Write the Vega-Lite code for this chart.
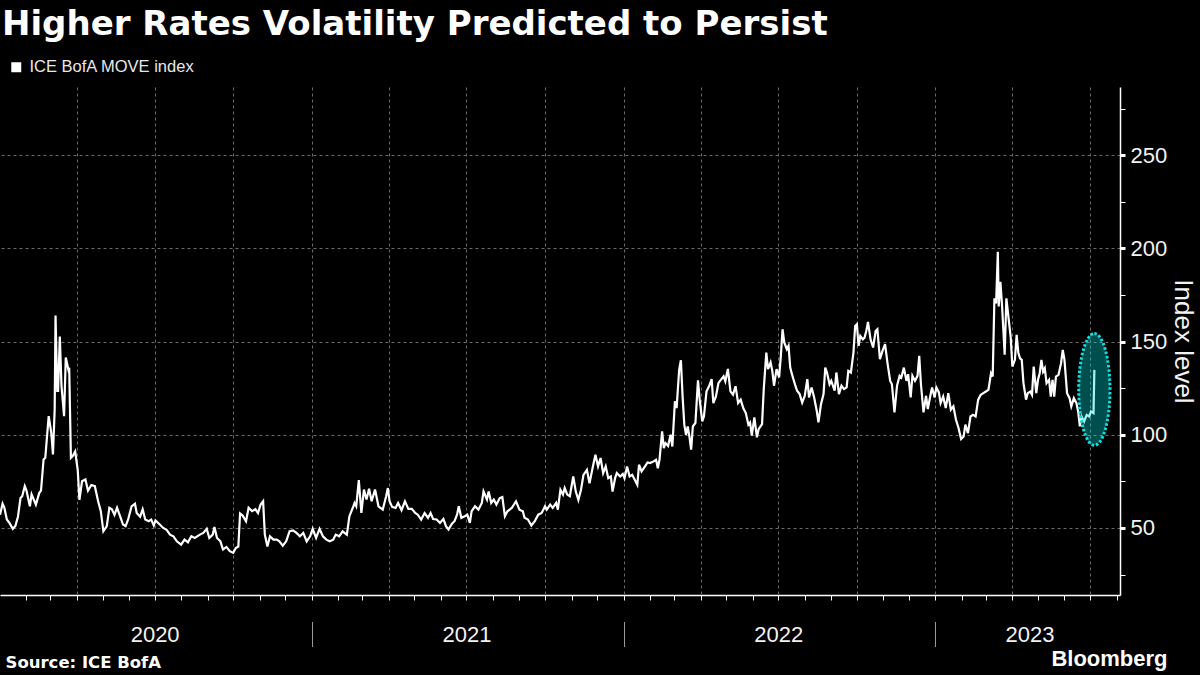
{
  "$schema": "https://vega.github.io/schema/vega-lite/v6.json",
  "width": 1120,
  "height": 508,
  "autosize": {"type": "none"},
  "padding": {"left": 0, "top": 87, "right": 80, "bottom": 80},
  "background": "#000000",
  "config": {
    "view": {"stroke": null},
    "font": "Liberation Sans"
  },
  "title": {
    "text": "Higher Rates Volatility Predicted to Persist",
    "anchor": "start",
    "frame": "group",
    "font": "DejaVu Sans",
    "fontSize": 34,
    "fontWeight": "bold",
    "color": "#ffffff",
    "baseline": "alphabetic",
    "offset": -10,
    "dx": 2
  },
  "datasets": {
    "move": [
      {"date": "2020-01-02", "value": 57}, {"date": "2020-01-05", "value": 63}, {"date": "2020-01-07", "value": 61}, {"date": "2020-01-10", "value": 54.5}, {"date": "2020-01-13", "value": 52.7}, {"date": "2020-01-17", "value": 49.5}, {"date": "2020-01-20", "value": 51}, {"date": "2020-01-23", "value": 56}, {"date": "2020-01-26", "value": 66}, {"date": "2020-01-28", "value": 67}, {"date": "2020-01-31", "value": 72.4},
      {"date": "2020-02-02", "value": 70}, {"date": "2020-02-06", "value": 61.6}, {"date": "2020-02-08", "value": 68}, {"date": "2020-02-13", "value": 62.5}, {"date": "2020-02-17", "value": 68.8}, {"date": "2020-02-19", "value": 70}, {"date": "2020-02-22", "value": 86.7}, {"date": "2020-02-24", "value": 87.6}, {"date": "2020-02-28", "value": 110},
      {"date": "2020-03-02", "value": 101}, {"date": "2020-03-04", "value": 89.4}, {"date": "2020-03-06", "value": 113.6}, {"date": "2020-03-07", "value": 164}, {"date": "2020-03-09", "value": 123.5}, {"date": "2020-03-10", "value": 123.5}, {"date": "2020-03-12", "value": 152.7}, {"date": "2020-03-14", "value": 126}, {"date": "2020-03-17", "value": 110}, {"date": "2020-03-19", "value": 141.4}, {"date": "2020-03-22", "value": 135}, {"date": "2020-03-23", "value": 136}, {"date": "2020-03-25", "value": 87.6}, {"date": "2020-03-27", "value": 88.5}, {"date": "2020-03-30", "value": 91},
      {"date": "2020-04-02", "value": 81}, {"date": "2020-04-04", "value": 65}, {"date": "2020-04-07", "value": 75}, {"date": "2020-04-11", "value": 76}, {"date": "2020-04-14", "value": 70}, {"date": "2020-04-18", "value": 73}, {"date": "2020-04-22", "value": 72.4}, {"date": "2020-04-26", "value": 64}, {"date": "2020-04-29", "value": 59},
      {"date": "2020-05-02", "value": 48.2}, {"date": "2020-05-06", "value": 51}, {"date": "2020-05-09", "value": 60.8}, {"date": "2020-05-12", "value": 60}, {"date": "2020-05-15", "value": 57}, {"date": "2020-05-18", "value": 60.8}, {"date": "2020-05-21", "value": 57}, {"date": "2020-05-25", "value": 51.8}, {"date": "2020-05-28", "value": 51}, {"date": "2020-05-31", "value": 54.5},
      {"date": "2020-06-04", "value": 61.6}, {"date": "2020-06-08", "value": 63}, {"date": "2020-06-10", "value": 58}, {"date": "2020-06-14", "value": 56}, {"date": "2020-06-17", "value": 60}, {"date": "2020-06-20", "value": 54.5}, {"date": "2020-06-24", "value": 53.6}, {"date": "2020-06-27", "value": 54.5}, {"date": "2020-06-30", "value": 51.3},
      {"date": "2020-07-02", "value": 54}, {"date": "2020-07-07", "value": 51.8}, {"date": "2020-07-11", "value": 50}, {"date": "2020-07-15", "value": 49}, {"date": "2020-07-19", "value": 46.4}, {"date": "2020-07-23", "value": 45.5}, {"date": "2020-07-27", "value": 42.8},
      {"date": "2020-08-01", "value": 41}, {"date": "2020-08-05", "value": 43.7}, {"date": "2020-08-09", "value": 42.3}, {"date": "2020-08-13", "value": 45.5}, {"date": "2020-08-17", "value": 44.6}, {"date": "2020-08-23", "value": 46.4}, {"date": "2020-08-27", "value": 47.3}, {"date": "2020-08-31", "value": 49.5},
      {"date": "2020-09-03", "value": 44.6}, {"date": "2020-09-07", "value": 46.4}, {"date": "2020-09-09", "value": 50.5}, {"date": "2020-09-12", "value": 44.6}, {"date": "2020-09-16", "value": 42.8}, {"date": "2020-09-19", "value": 38.4}, {"date": "2020-09-23", "value": 39.8}, {"date": "2020-09-27", "value": 37.5},
      {"date": "2020-10-01", "value": 36.6}, {"date": "2020-10-04", "value": 39.2}, {"date": "2020-10-07", "value": 40}, {"date": "2020-10-09", "value": 57.7}, {"date": "2020-10-12", "value": 56.6}, {"date": "2020-10-16", "value": 53.6}, {"date": "2020-10-19", "value": 60.8}, {"date": "2020-10-23", "value": 59}, {"date": "2020-10-27", "value": 60}, {"date": "2020-10-30", "value": 58},
      {"date": "2020-11-02", "value": 62.5}, {"date": "2020-11-05", "value": 64.3}, {"date": "2020-11-07", "value": 46.4}, {"date": "2020-11-10", "value": 40}, {"date": "2020-11-13", "value": 45.5}, {"date": "2020-11-17", "value": 43.7}, {"date": "2020-11-21", "value": 43.7}, {"date": "2020-11-24", "value": 42.8}, {"date": "2020-11-28", "value": 40.5},
      {"date": "2020-12-02", "value": 42.8}, {"date": "2020-12-06", "value": 48.2}, {"date": "2020-12-10", "value": 48.7}, {"date": "2020-12-14", "value": 47.3}, {"date": "2020-12-18", "value": 45.5}, {"date": "2020-12-22", "value": 47.3}, {"date": "2020-12-26", "value": 42.8}, {"date": "2020-12-30", "value": 45.5},
      {"date": "2021-01-02", "value": 49.5}, {"date": "2021-01-06", "value": 44.6}, {"date": "2021-01-10", "value": 49.5}, {"date": "2021-01-14", "value": 45.5}, {"date": "2021-01-18", "value": 43.7}, {"date": "2021-01-22", "value": 42.8}, {"date": "2021-01-26", "value": 43.7}, {"date": "2021-01-29", "value": 46.4},
      {"date": "2021-02-02", "value": 45.5}, {"date": "2021-02-06", "value": 48.2}, {"date": "2021-02-11", "value": 46.4}, {"date": "2021-02-14", "value": 56.3}, {"date": "2021-02-18", "value": 60.8}, {"date": "2021-02-20", "value": 63.4}, {"date": "2021-02-22", "value": 61.6}, {"date": "2021-02-25", "value": 75.6}, {"date": "2021-02-28", "value": 58},
      {"date": "2021-03-03", "value": 70.6}, {"date": "2021-03-06", "value": 65.2}, {"date": "2021-03-09", "value": 71}, {"date": "2021-03-12", "value": 64.3}, {"date": "2021-03-16", "value": 70.6}, {"date": "2021-03-20", "value": 61.6}, {"date": "2021-03-25", "value": 59.8}, {"date": "2021-03-29", "value": 67}, {"date": "2021-03-31", "value": 71.4},
      {"date": "2021-04-02", "value": 64.3}, {"date": "2021-04-05", "value": 61.3}, {"date": "2021-04-09", "value": 60.7}, {"date": "2021-04-12", "value": 63.4}, {"date": "2021-04-16", "value": 59.5}, {"date": "2021-04-20", "value": 64.3}, {"date": "2021-04-24", "value": 60.2}, {"date": "2021-04-28", "value": 60.2},
      {"date": "2021-05-02", "value": 58}, {"date": "2021-05-05", "value": 57.1}, {"date": "2021-05-09", "value": 54.5}, {"date": "2021-05-13", "value": 58}, {"date": "2021-05-17", "value": 55.4}, {"date": "2021-05-20", "value": 58}, {"date": "2021-05-23", "value": 54.8}, {"date": "2021-05-27", "value": 54.5}, {"date": "2021-05-31", "value": 52.7},
      {"date": "2021-06-04", "value": 54.8}, {"date": "2021-06-07", "value": 50.9}, {"date": "2021-06-10", "value": 49.1}, {"date": "2021-06-14", "value": 52.3}, {"date": "2021-06-17", "value": 53.6}, {"date": "2021-06-20", "value": 57.1}, {"date": "2021-06-22", "value": 61.6}, {"date": "2021-06-25", "value": 55.4}, {"date": "2021-06-29", "value": 56.3},
      {"date": "2021-07-02", "value": 57.1}, {"date": "2021-07-05", "value": 52.7}, {"date": "2021-07-07", "value": 58.9}, {"date": "2021-07-11", "value": 61.6}, {"date": "2021-07-15", "value": 59.8}, {"date": "2021-07-19", "value": 63.4}, {"date": "2021-07-21", "value": 69.6}, {"date": "2021-07-25", "value": 65.2}, {"date": "2021-07-27", "value": 69.6}, {"date": "2021-07-30", "value": 63.4},
      {"date": "2021-08-02", "value": 65.2}, {"date": "2021-08-05", "value": 62.5}, {"date": "2021-08-09", "value": 66}, {"date": "2021-08-12", "value": 66.6}, {"date": "2021-08-15", "value": 56.3}, {"date": "2021-08-18", "value": 58.9}, {"date": "2021-08-23", "value": 60.7}, {"date": "2021-08-28", "value": 64.3},
      {"date": "2021-09-01", "value": 59.8}, {"date": "2021-09-05", "value": 58.9}, {"date": "2021-09-07", "value": 55.4}, {"date": "2021-09-11", "value": 54.5}, {"date": "2021-09-15", "value": 51.3}, {"date": "2021-09-19", "value": 53.6}, {"date": "2021-09-23", "value": 57.1}, {"date": "2021-09-27", "value": 58},
      {"date": "2021-10-01", "value": 61.6}, {"date": "2021-10-03", "value": 59.8}, {"date": "2021-10-07", "value": 62.5}, {"date": "2021-10-10", "value": 60.7}, {"date": "2021-10-14", "value": 63.4}, {"date": "2021-10-16", "value": 59.8}, {"date": "2021-10-19", "value": 70.5}, {"date": "2021-10-22", "value": 67.9}, {"date": "2021-10-24", "value": 71.4}, {"date": "2021-10-27", "value": 67.9}, {"date": "2021-10-30", "value": 67},
      {"date": "2021-11-03", "value": 77.6}, {"date": "2021-11-06", "value": 69.5}, {"date": "2021-11-09", "value": 65}, {"date": "2021-11-12", "value": 70.4}, {"date": "2021-11-15", "value": 78.5}, {"date": "2021-11-19", "value": 81.2}, {"date": "2021-11-22", "value": 74}, {"date": "2021-11-26", "value": 83}, {"date": "2021-11-29", "value": 89.2},
      {"date": "2021-12-02", "value": 83}, {"date": "2021-12-05", "value": 87.5}, {"date": "2021-12-08", "value": 79.4}, {"date": "2021-12-11", "value": 83}, {"date": "2021-12-14", "value": 76.7}, {"date": "2021-12-17", "value": 77.6}, {"date": "2021-12-19", "value": 69.5}, {"date": "2021-12-22", "value": 76.7}, {"date": "2021-12-24", "value": 79.4}, {"date": "2021-12-28", "value": 77.6}, {"date": "2021-12-31", "value": 79},
      {"date": "2022-01-02", "value": 76.7}, {"date": "2022-01-05", "value": 83}, {"date": "2022-01-08", "value": 77.6}, {"date": "2022-01-11", "value": 78.5}, {"date": "2022-01-14", "value": 75.8}, {"date": "2022-01-17", "value": 73.1}, {"date": "2022-01-19", "value": 83.9}, {"date": "2022-01-22", "value": 80.3}, {"date": "2022-01-26", "value": 83}, {"date": "2022-01-29", "value": 85.1},
      {"date": "2022-02-01", "value": 84.8}, {"date": "2022-02-05", "value": 85.7}, {"date": "2022-02-08", "value": 86.6}, {"date": "2022-02-10", "value": 82}, {"date": "2022-02-12", "value": 86.6}, {"date": "2022-02-15", "value": 101.8}, {"date": "2022-02-17", "value": 92.8}, {"date": "2022-02-19", "value": 95.5}, {"date": "2022-02-22", "value": 94}, {"date": "2022-02-25", "value": 100}, {"date": "2022-02-27", "value": 93.7},
      {"date": "2022-03-02", "value": 117.9}, {"date": "2022-03-04", "value": 114.3}, {"date": "2022-03-07", "value": 135}, {"date": "2022-03-09", "value": 140}, {"date": "2022-03-11", "value": 120.6}, {"date": "2022-03-13", "value": 105.4}, {"date": "2022-03-15", "value": 100}, {"date": "2022-03-17", "value": 104.5}, {"date": "2022-03-19", "value": 99}, {"date": "2022-03-21", "value": 92}, {"date": "2022-03-23", "value": 104.5}, {"date": "2022-03-26", "value": 106.3}, {"date": "2022-03-29", "value": 129.2}, {"date": "2022-03-31", "value": 118.8},
      {"date": "2022-04-03", "value": 107.2}, {"date": "2022-04-05", "value": 109.9}, {"date": "2022-04-08", "value": 123.3}, {"date": "2022-04-11", "value": 126}, {"date": "2022-04-14", "value": 129.9}, {"date": "2022-04-16", "value": 117}, {"date": "2022-04-19", "value": 120.6}, {"date": "2022-04-22", "value": 127.8}, {"date": "2022-04-25", "value": 129.6}, {"date": "2022-04-28", "value": 131.4}, {"date": "2022-04-30", "value": 128.7},
      {"date": "2022-05-03", "value": 135.3}, {"date": "2022-05-06", "value": 123.3}, {"date": "2022-05-09", "value": 121.5}, {"date": "2022-05-12", "value": 126}, {"date": "2022-05-15", "value": 117}, {"date": "2022-05-18", "value": 118.8}, {"date": "2022-05-21", "value": 114.3}, {"date": "2022-05-24", "value": 111.6}, {"date": "2022-05-27", "value": 105.4}, {"date": "2022-05-29", "value": 106.6}, {"date": "2022-05-31", "value": 99.5},
      {"date": "2022-06-03", "value": 109.3}, {"date": "2022-06-06", "value": 98.6}, {"date": "2022-06-08", "value": 103}, {"date": "2022-06-12", "value": 105.7}, {"date": "2022-06-14", "value": 124.5}, {"date": "2022-06-17", "value": 144.1}, {"date": "2022-06-19", "value": 135.2}, {"date": "2022-06-22", "value": 138.8}, {"date": "2022-06-24", "value": 134.3}, {"date": "2022-06-26", "value": 126.3}, {"date": "2022-06-29", "value": 135.2},
      {"date": "2022-07-02", "value": 130.7}, {"date": "2022-07-04", "value": 142.3}, {"date": "2022-07-06", "value": 156.6}, {"date": "2022-07-08", "value": 149.5}, {"date": "2022-07-11", "value": 145.9}, {"date": "2022-07-13", "value": 147.7}, {"date": "2022-07-15", "value": 136}, {"date": "2022-07-17", "value": 132.5}, {"date": "2022-07-21", "value": 126.3}, {"date": "2022-07-23", "value": 123.6}, {"date": "2022-07-26", "value": 121.8}, {"date": "2022-07-29", "value": 117.3},
      {"date": "2022-08-01", "value": 120.9}, {"date": "2022-08-04", "value": 129.8}, {"date": "2022-08-06", "value": 120}, {"date": "2022-08-09", "value": 125.4}, {"date": "2022-08-12", "value": 120}, {"date": "2022-08-15", "value": 112.9}, {"date": "2022-08-17", "value": 106.6}, {"date": "2022-08-20", "value": 116.4}, {"date": "2022-08-23", "value": 121.8}, {"date": "2022-08-25", "value": 136}, {"date": "2022-08-27", "value": 133.4}, {"date": "2022-08-30", "value": 127.1},
      {"date": "2022-09-01", "value": 128.9}, {"date": "2022-09-05", "value": 123.6}, {"date": "2022-09-07", "value": 133.4}, {"date": "2022-09-10", "value": 121.8}, {"date": "2022-09-13", "value": 126.3}, {"date": "2022-09-16", "value": 124.5}, {"date": "2022-09-19", "value": 125.4}, {"date": "2022-09-21", "value": 134.3}, {"date": "2022-09-24", "value": 133.4}, {"date": "2022-09-27", "value": 144.1}, {"date": "2022-09-29", "value": 158.4},
      {"date": "2022-10-01", "value": 159.3}, {"date": "2022-10-03", "value": 147.7}, {"date": "2022-10-05", "value": 153}, {"date": "2022-10-08", "value": 151.2}, {"date": "2022-10-10", "value": 152.1}, {"date": "2022-10-12", "value": 155.7}, {"date": "2022-10-14", "value": 160.5}, {"date": "2022-10-17", "value": 151.2}, {"date": "2022-10-20", "value": 146.8}, {"date": "2022-10-23", "value": 155.7}, {"date": "2022-10-25", "value": 156.6}, {"date": "2022-10-28", "value": 140.5}, {"date": "2022-10-31", "value": 145},
      {"date": "2022-11-03", "value": 148.6}, {"date": "2022-11-06", "value": 137.9}, {"date": "2022-11-09", "value": 128.9}, {"date": "2022-11-11", "value": 127.1}, {"date": "2022-11-14", "value": 112}, {"date": "2022-11-17", "value": 126.3}, {"date": "2022-11-20", "value": 131.6}, {"date": "2022-11-22", "value": 130.7}, {"date": "2022-11-25", "value": 136}, {"date": "2022-11-28", "value": 128.9}, {"date": "2022-11-30", "value": 132.5},
      {"date": "2022-12-03", "value": 120}, {"date": "2022-12-05", "value": 131.6}, {"date": "2022-12-08", "value": 128.9}, {"date": "2022-12-11", "value": 131.6}, {"date": "2022-12-13", "value": 142.3}, {"date": "2022-12-15", "value": 127.1}, {"date": "2022-12-18", "value": 112}, {"date": "2022-12-21", "value": 120.9}, {"date": "2022-12-23", "value": 113.8}, {"date": "2022-12-26", "value": 120.9}, {"date": "2022-12-28", "value": 125.4}, {"date": "2022-12-31", "value": 120},
      {"date": "2023-01-02", "value": 125.4}, {"date": "2023-01-05", "value": 122.7}, {"date": "2023-01-07", "value": 117}, {"date": "2023-01-10", "value": 120.5}, {"date": "2023-01-13", "value": 114.3}, {"date": "2023-01-16", "value": 122.3}, {"date": "2023-01-19", "value": 113.4}, {"date": "2023-01-22", "value": 115.2}, {"date": "2023-01-25", "value": 108}, {"date": "2023-01-28", "value": 103.6}, {"date": "2023-01-31", "value": 97.7},
      {"date": "2023-02-03", "value": 99.1}, {"date": "2023-02-05", "value": 105.4}, {"date": "2023-02-08", "value": 100.9}, {"date": "2023-02-11", "value": 109.8}, {"date": "2023-02-14", "value": 110.7}, {"date": "2023-02-17", "value": 109.8}, {"date": "2023-02-20", "value": 118.8}, {"date": "2023-02-23", "value": 121.4}, {"date": "2023-02-26", "value": 122.3},
      {"date": "2023-03-01", "value": 123.2}, {"date": "2023-03-04", "value": 124.1}, {"date": "2023-03-07", "value": 133}, {"date": "2023-03-09", "value": 131.2}, {"date": "2023-03-11", "value": 173.2}, {"date": "2023-03-13", "value": 170.5}, {"date": "2023-03-15", "value": 198.2}, {"date": "2023-03-16", "value": 168.8}, {"date": "2023-03-18", "value": 182.1}, {"date": "2023-03-20", "value": 168.8}, {"date": "2023-03-23", "value": 142.9}, {"date": "2023-03-25", "value": 173.2}, {"date": "2023-03-28", "value": 160.7}, {"date": "2023-03-30", "value": 152.7},
      {"date": "2023-04-01", "value": 136.6}, {"date": "2023-04-04", "value": 140.2}, {"date": "2023-04-06", "value": 153.6}, {"date": "2023-04-08", "value": 143.8}, {"date": "2023-04-10", "value": 141}, {"date": "2023-04-12", "value": 140.2}, {"date": "2023-04-14", "value": 127.7}, {"date": "2023-04-17", "value": 118.8}, {"date": "2023-04-19", "value": 122.3}, {"date": "2023-04-22", "value": 123.2}, {"date": "2023-04-24", "value": 121.4}, {"date": "2023-04-26", "value": 136.6}, {"date": "2023-04-29", "value": 122.3},
      {"date": "2023-05-01", "value": 129.5}, {"date": "2023-05-03", "value": 133}, {"date": "2023-05-05", "value": 140.2}, {"date": "2023-05-07", "value": 133.9}, {"date": "2023-05-09", "value": 135.7}, {"date": "2023-05-11", "value": 127.7}, {"date": "2023-05-14", "value": 129.5}, {"date": "2023-05-16", "value": 120.5}, {"date": "2023-05-18", "value": 129.5}, {"date": "2023-05-20", "value": 120.5}, {"date": "2023-05-22", "value": 131.2}, {"date": "2023-05-25", "value": 132.1}, {"date": "2023-05-28", "value": 138.4}, {"date": "2023-05-30", "value": 145.5},
      {"date": "2023-06-01", "value": 140.2}, {"date": "2023-06-04", "value": 122.3}, {"date": "2023-06-07", "value": 119.6}, {"date": "2023-06-09", "value": 115.2}, {"date": "2023-06-12", "value": 119.6}, {"date": "2023-06-15", "value": 117}, {"date": "2023-06-17", "value": 112.5}, {"date": "2023-06-19", "value": 104.5}, {"date": "2023-06-21", "value": 109.8}, {"date": "2023-06-24", "value": 107.1}, {"date": "2023-06-27", "value": 110.7}, {"date": "2023-06-30", "value": 109.8},
      {"date": "2023-07-02", "value": 112.5}, {"date": "2023-07-05", "value": 111.6}, {"date": "2023-07-06", "value": 134.8}
    ],
    "highlight": [
      {"date": "2023-07-06", "value": 124.3}
    ]
  },
  "layer": [
    {
      "data": {"name": "move"},
      "mark": {"type": "line", "strokeWidth": 2.2, "interpolate": "linear"},
      "encoding": {
        "x": {
          "field": "date",
          "type": "temporal",
          "scale": {"type": "utc", "domain": [{"year": 2020, "month": 1, "date": 2, "utc": true}, {"year": 2023, "month": 8, "date": 5, "utc": true}], "nice": false},
          "axis": {
            "orient": "bottom",
            "values": [
              {"year": 2020, "month": 2, "date": 1, "utc": true}, {"year": 2020, "month": 3, "date": 1, "utc": true}, {"year": 2020, "month": 4, "date": 1, "utc": true}, {"year": 2020, "month": 5, "date": 1, "utc": true}, {"year": 2020, "month": 6, "date": 1, "utc": true}, {"year": 2020, "month": 7, "date": 1, "utc": true}, {"year": 2020, "month": 8, "date": 1, "utc": true}, {"year": 2020, "month": 9, "date": 1, "utc": true}, {"year": 2020, "month": 10, "date": 1, "utc": true}, {"year": 2020, "month": 11, "date": 1, "utc": true}, {"year": 2020, "month": 12, "date": 1, "utc": true},
              {"year": 2021, "month": 1, "date": 1, "utc": true}, {"year": 2021, "month": 2, "date": 1, "utc": true}, {"year": 2021, "month": 3, "date": 1, "utc": true}, {"year": 2021, "month": 4, "date": 1, "utc": true}, {"year": 2021, "month": 5, "date": 1, "utc": true}, {"year": 2021, "month": 6, "date": 1, "utc": true}, {"year": 2021, "month": 7, "date": 1, "utc": true}, {"year": 2021, "month": 8, "date": 1, "utc": true}, {"year": 2021, "month": 9, "date": 1, "utc": true}, {"year": 2021, "month": 10, "date": 1, "utc": true}, {"year": 2021, "month": 11, "date": 1, "utc": true}, {"year": 2021, "month": 12, "date": 1, "utc": true},
              {"year": 2022, "month": 1, "date": 1, "utc": true}, {"year": 2022, "month": 2, "date": 1, "utc": true}, {"year": 2022, "month": 3, "date": 1, "utc": true}, {"year": 2022, "month": 4, "date": 1, "utc": true}, {"year": 2022, "month": 5, "date": 1, "utc": true}, {"year": 2022, "month": 6, "date": 1, "utc": true}, {"year": 2022, "month": 7, "date": 1, "utc": true}, {"year": 2022, "month": 8, "date": 1, "utc": true}, {"year": 2022, "month": 9, "date": 1, "utc": true}, {"year": 2022, "month": 10, "date": 1, "utc": true}, {"year": 2022, "month": 11, "date": 1, "utc": true}, {"year": 2022, "month": 12, "date": 1, "utc": true},
              {"year": 2023, "month": 1, "date": 1, "utc": true}, {"year": 2023, "month": 2, "date": 1, "utc": true}, {"year": 2023, "month": 3, "date": 1, "utc": true}, {"year": 2023, "month": 4, "date": 1, "utc": true}, {"year": 2023, "month": 4, "date": 21, "utc": true}, {"year": 2023, "month": 5, "date": 1, "utc": true}, {"year": 2023, "month": 6, "date": 1, "utc": true}, {"year": 2023, "month": 7, "date": 1, "utc": true}, {"year": 2023, "month": 8, "date": 1, "utc": true}
            ],
            "labelExpr": "((utcmonth(datum.value) == 6 && utcdate(datum.value) == 1 && utcyear(datum.value) < 2023) || (utcmonth(datum.value) == 3 && utcdate(datum.value) == 21)) ? utcFormat(datum.value, '%Y') : ''",
            "labelOverlap": false,
            "labelFlush": false,
            "labelBound": false,
            "labelFont": "Liberation Sans",
            "labelFontSize": 22,
            "labelColor": "#f2f2f2",
            "labelPadding": 24,
            "labelAlign": "center",
            "domainColor": "#ffffff",
            "domainWidth": 1.5,
            "tickColor": "#ffffff",
            "tickSize": 5,
            "tickWidth": 1,
            "tickOpacity": {"condition": {"test": "utcdate(datum.value) == 1", "value": 1}, "value": 0},
            "grid": true,
            "gridColor": "#6a6a6a",
            "gridDash": [3, 3],
            "gridWidth": 1,
            "gridOpacity": {"condition": {"test": "utcdate(datum.value) == 1 && utcmonth(datum.value) % 3 == 0", "value": 1}, "value": 0},
            "title": "Source: ICE BofA",
            "titleFont": "DejaVu Sans",
            "titleFontSize": 16.5,
            "titleFontWeight": "bold",
            "titleColor": "#ffffff",
            "titleAlign": "left",
            "titleAnchor": "start",
            "titleBaseline": "alphabetic",
            "titleX": 5,
            "titleY": 72
          }
        },
        "y": {
          "field": "value",
          "type": "quantitative",
          "title": "Index level",
          "scale": {"domain": [14, 286.6], "nice": false, "zero": false},
          "axis": {
            "orient": "right",
            "values": [25, 50, 75, 100, 125, 150, 175, 200, 225, 250, 275],
            "labelExpr": "datum.value % 50 === 0 ? datum.label : ''",
            "labelFont": "Liberation Sans",
            "labelFontSize": 22,
            "labelColor": "#f2f2f2",
            "labelPadding": 5,
            "domainColor": "#ffffff",
            "domainWidth": 1.5,
            "tickColor": "#ffffff",
            "tickSize": 5,
            "tickWidth": {"condition": {"test": "datum.value % 50 === 0", "value": 3}, "value": 1},
            "grid": true,
            "gridColor": "#6a6a6a",
            "gridDash": [3, 3],
            "gridWidth": 1,
            "gridOpacity": {"condition": {"test": "datum.value % 50 === 0", "value": 1}, "value": 0},
            "titleFont": "Liberation Sans",
            "titleFontSize": 26,
            "titleFontWeight": "normal",
            "titleColor": "#f2f2f2",
            "titlePadding": 3
          }
        },
        "color": {
          "datum": "ICE BofA MOVE index",
          "type": "nominal",
          "scale": {"range": ["#ffffff"]},
          "legend": {
            "orient": "none",
            "legendX": 8,
            "legendY": -28,
            "title": null,
            "padding": 0,
            "symbolType": "square",
            "symbolSize": 100,
            "symbolFillColor": "#ffffff",
            "symbolStrokeColor": "#ffffff",
            "symbolStrokeWidth": 0,
            "labelFont": "Liberation Sans",
            "labelFontSize": 16.5,
            "labelColor": "#e8e8e8",
            "labelLimit": 0,
            "labelOffset": 5
          }
        }
      }
    },
    {
      "data": {"name": "highlight"},
      "mark": {
        "type": "point",
        "shape": "M 0 -1 A 0.28 1 0 1 1 0 1 A 0.28 1 0 1 1 0 -1 Z",
        "size": 12477,
        "filled": true,
        "fill": "#00e0e0",
        "fillOpacity": 0.35,
        "stroke": "#12dede",
        "strokeOpacity": 1,
        "strokeWidth": 3,
        "strokeDash": [2.5, 2],
        "opacity": 1
      },
      "encoding": {
        "x": {
          "field": "date",
          "type": "temporal",
          "axis": {
            "orient": "bottom",
            "values": [{"year": 2021, "month": 1, "date": 1, "utc": true}, {"year": 2022, "month": 1, "date": 1, "utc": true}, {"year": 2023, "month": 1, "date": 1, "utc": true}],
            "domain": false,
            "labels": false,
            "grid": false,
            "ticks": true,
            "tickSize": 25,
            "tickColor": "#9a9a9a",
            "tickWidth": 1,
            "offset": 26.5,
            "title": "Bloomberg",
            "titleFont": "Liberation Sans",
            "titleFontSize": 22,
            "titleFontWeight": "bold",
            "titleColor": "#ffffff",
            "titleAlign": "right",
            "titleAnchor": "end",
            "titleBaseline": "alphabetic",
            "titleX": 1167,
            "titleY": 44
          }
        },
        "y": {"field": "value", "type": "quantitative", "title": "Index level"}
      }
    }
  ],
  "resolve": {"axis": {"x": "independent"}}
}
